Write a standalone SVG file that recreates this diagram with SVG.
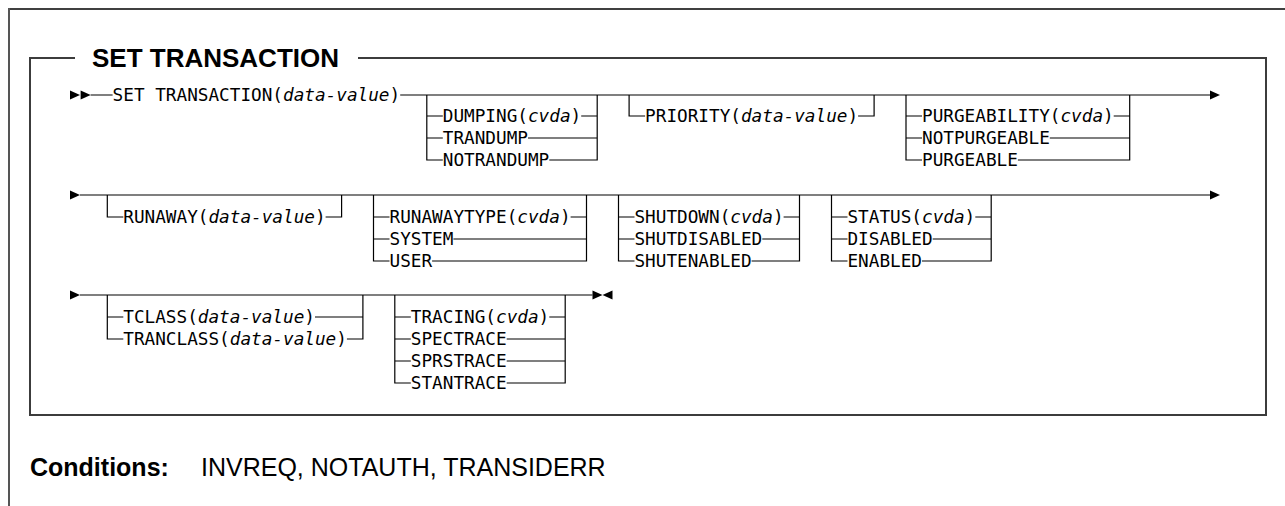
<svg xmlns="http://www.w3.org/2000/svg" width="1285" height="506" viewBox="0 0 1285 506">
<style>
.t{font-family:"DejaVu Sans Mono","Liberation Mono",monospace;font-size:17.69px;fill:#000}
.i{font-style:italic}
.ln{fill:none;stroke:#000;stroke-width:1.2}
.box{fill:none;stroke:#3c3c3c;stroke-width:2}
.title{font-family:"Liberation Sans",Arial,sans-serif;font-weight:bold;font-size:26px;fill:#000}
.cond{font-family:"Liberation Sans",Arial,sans-serif;font-size:25px;fill:#000}
.arr{fill:#000}
</style>
<defs><path id="ar" d="M0,-4.5 L10,0 L0,4.5 Z"/></defs>
<rect width="1285" height="506" fill="#fff"/>
<g id="frame">
<path d="M9,9 H1285" stroke="#000" stroke-width="1.5" fill="none"/>
<path d="M9,8 V506" stroke="#555" stroke-width="2" fill="none"/>
<path class="box" d="M75,58 H30 V415 H1266 V58 H358"/>
<text class="title" x="92" y="67.3">SET TRANSACTION</text>
</g>
<g id="connectors">
<g class="ln">
<path d="M90.6,95 H112.6 M400.2,95 H1210"/>
<path d="M80,195 H1210"/>
<path d="M80,295 H592.5"/>
</g>
<use href="#ar" x="1210" y="95" class="arr"/>
<use href="#ar" x="70" y="195" class="arr"/>
<use href="#ar" x="1210" y="195" class="arr"/>
<use href="#ar" x="70" y="295" class="arr"/>
<use href="#ar" x="592.5" y="295" class="arr"/>
<use href="#ar" transform="translate(612.5,295) scale(-1,1)" class="arr"/>
</g>
<g id="start">
<use href="#ar" x="70" y="95" class="arr"/>
<use href="#ar" x="80.65" y="95" class="arr"/>
<text class="t" x="112.6" y="101.45">SET TRANSACTION(<tspan class="i">data-value</tspan>)</text>
</g>
<g id="dumping">
<path class="ln" d="M426.8,95 V160 H442.8 M426.8,116 H442.8 M426.8,138 H442.8 M581.2,116 H597.2 M528,138 H597.2 M549.3,160 H597.2 V95"/>
<text class="t" x="442.75" y="122.45">DUMPING(<tspan class="i">cvda</tspan>)</text>
<text class="t" x="442.75" y="144.45">TRANDUMP</text>
<text class="t" x="442.75" y="166.45">NOTRANDUMP</text>
</g>
<g id="priority">
<path class="ln" d="M629.1,95 V116 H645.1 M858.1,116 H874.1 V95"/>
<text class="t" x="645.1" y="122.45">PRIORITY(<tspan class="i">data-value</tspan>)</text>
</g>
<g id="purgeability">
<path class="ln" d="M906,95 V160 H922 M906,116 H922 M906,138 H922 M1113.7,116 H1129.7 M1049.8,138 H1129.7 M1017.9,160 H1129.7 V95"/>
<text class="t" x="922" y="122.45">PURGEABILITY(<tspan class="i">cvda</tspan>)</text>
<text class="t" x="922" y="144.45">NOTPURGEABLE</text>
<text class="t" x="922" y="166.45">PURGEABLE</text>
</g>
<g id="runaway">
<path class="ln" d="M107.3,195 V217 H123.3 M325.6,217 H341.6 V195"/>
<text class="t" x="123.25" y="223.45">RUNAWAY(<tspan class="i">data-value</tspan>)</text>
</g>
<g id="runawaytype">
<path class="ln" d="M373.5,195 V261 H389.5 M373.5,217 H389.5 M373.5,239 H389.5 M570.6,217 H586.5 M453.4,239 H586.5 M432.1,261 H586.5 V195"/>
<text class="t" x="389.5" y="223.45">RUNAWAYTYPE(<tspan class="i">cvda</tspan>)</text>
<text class="t" x="389.5" y="245.45">SYSTEM</text>
<text class="t" x="389.5" y="267.45">USER</text>
</g>
<g id="shutdown">
<path class="ln" d="M618.5,195 V261 H634.5 M618.5,217 H634.5 M618.5,239 H634.5 M783.6,217 H799.5 M762.3,239 H799.5 M751.6,261 H799.5 V195"/>
<text class="t" x="634.45" y="223.45">SHUTDOWN(<tspan class="i">cvda</tspan>)</text>
<text class="t" x="634.45" y="245.45">SHUTDISABLED</text>
<text class="t" x="634.45" y="267.45">SHUTENABLED</text>
</g>
<g id="status">
<path class="ln" d="M831.5,195 V261 H847.5 M831.5,217 H847.5 M831.5,239 H847.5 M975.3,217 H991.2 M932.7,239 H991.2 M922,261 H991.2 V195"/>
<text class="t" x="847.45" y="223.45">STATUS(<tspan class="i">cvda</tspan>)</text>
<text class="t" x="847.45" y="245.45">DISABLED</text>
<text class="t" x="847.45" y="267.45">ENABLED</text>
</g>
<g id="tclass">
<path class="ln" d="M107.3,295 V339 H123.3 M107.3,317 H123.3 M315,317 H362.9 M346.9,339 H362.9 V295"/>
<text class="t" x="123.25" y="323.45">TCLASS(<tspan class="i">data-value</tspan>)</text>
<text class="t" x="123.25" y="345.45">TRANCLASS(<tspan class="i">data-value</tspan>)</text>
</g>
<g id="tracing">
<path class="ln" d="M394.8,295 V383 H410.8 M394.8,317 H410.8 M394.8,339 H410.8 M394.8,361 H410.8 M549.3,317 H565.2 M506.7,339 H565.2 M506.7,361 H565.2 M506.7,383 H565.2 V295"/>
<text class="t" x="410.8" y="323.45">TRACING(<tspan class="i">cvda</tspan>)</text>
<text class="t" x="410.8" y="345.45">SPECTRACE</text>
<text class="t" x="410.8" y="367.45">SPRSTRACE</text>
<text class="t" x="410.8" y="389.45">STANTRACE</text>
</g>
<g id="conditions">
<text class="cond" x="30" y="476" font-weight="bold">Conditions:</text>
<text class="cond" x="201" y="476">INVREQ, NOTAUTH, TRANSIDERR</text>
</g>
</svg>
